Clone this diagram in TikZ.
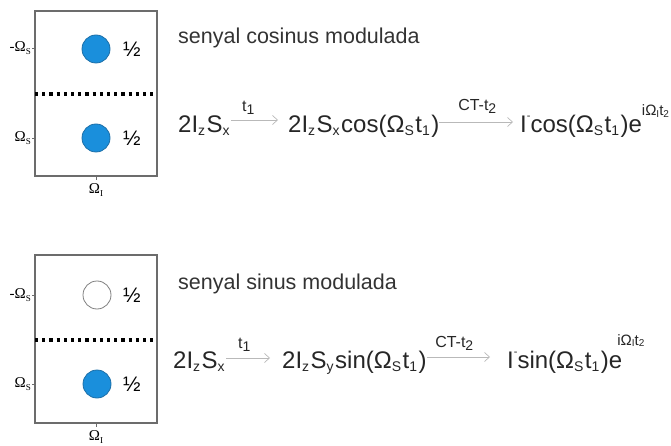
\documentclass[tikz,border=0pt]{standalone}
\usepackage{fontspec}
\setmainfont{Liberation Sans}
\newfontfamily\omfont{Liberation Serif}
\usetikzlibrary{arrows.meta}
\definecolor{dotblue}{HTML}{1A8FDC}
\definecolor{dotedge}{HTML}{1D6FA8}
\newcommand\dn[1]{\raisebox{-3pt}{\fontsize{14}{14}\selectfont #1}\kern1.5pt}
\newcommand\dnn[1]{\raisebox{-1.5pt}{\fontsize{10}{10}\selectfont #1}}
\newcommand\upm{\raisebox{13pt}{\fontsize{11}{11}\selectfont -}}
\newcommand\expo[1]{\raisebox{#1}{\fontsize{15}{15}\selectfont iΩ\dnn{I}t\dnn{2}}}
\newcommand\axs[1]{\raisebox{-2.5pt}{\fontsize{9}{9}\selectfont #1}}
\begin{document}
\begin{tikzpicture}[x=1pt,y=-1pt,
  box/.style={draw=gray!85!black,line width=1.2pt,minimum width=122pt,inner sep=0pt},
  dotline/.style={line width=3.2pt,dash pattern=on 3.2pt off 4pt},
  filled/.style={circle,draw=dotedge,fill=dotblue,line width=0.8pt,minimum size=28pt,inner sep=0pt},
  empty/.style={circle,draw=gray,fill=white,line width=0.8pt,minimum size=28pt,inner sep=0pt},
  half/.style={font=\fontsize{21}{21}\selectfont,inner sep=0pt},
  axl/.style={font=\omfont\fontsize{15}{15}\selectfont,inner sep=0pt,anchor=east},
  axb/.style={font=\omfont\fontsize{15}{15}\selectfont,inner sep=0pt},
  tick/.style={gray!85!black,line width=0.8pt},
  head/.style={font=\fontsize{21.5}{21.5}\selectfont,text=black!80,inner sep=0pt,anchor=base west},
  expr/.style={font=\fontsize{24}{24}\selectfont,text=black!85,inner sep=0pt,anchor=base west},
  lab/.style={font=\fontsize{16}{16}\selectfont,text=black!85,inner sep=0pt},
  arr/.style={draw=gray!55,line width=0.7pt,-{Straight Barb[length=5pt,width=9pt]}}
]
\useasboundingbox (0,0) rectangle (671,446);
% ---------- upper panel ----------
\node[box,minimum height=165pt] (box1) at (96,93.5) {};
\draw[dotline] (35,94) -- (157,94);
\node[filled] (c1) at (96,49) {};
\node[filled] (c2) at (96,138) {};
\node[half] (h1) at (132,49) {½};
\node[half] (h2) at (132,138) {½};
\draw[tick] (32,48) -- (35,48);
\draw[tick] (32,138) -- (35,138);
\draw[tick] (96,176) -- (96,180);
\node[axl] (l1) at (31,48) {-Ω\axs{S}};
\node[axl] (l2) at (31,138) {Ω\axs{S}};
\node[axb] (l3) at (96,190) {Ω\axs{I}};
\node[head] (t1) at (178,44) {senyal cosinus modulada};
\node[expr] (a1) at (178,133) {2I\dn{z}S\dn{x}};
\node[expr] (b1) at (288,133) {2I\dn{z}S\dn{x}cos(Ω\dn{S}t\dn{1})};
\node[expr] (e1) at (520,133) {I\upm cos(Ω\dn{S}t\dn{1})e\expo{17pt}};
\draw[arr] ([yshift=13pt]a1.base east) -- ([xshift=-10pt,yshift=13pt]b1.base west);
\draw[arr] ([yshift=11pt]b1.base east) -- ([xshift=-7pt,yshift=11pt]e1.base west);
\node[lab] (p1) at (249,108) {t\dn{1}};
\node[lab] (q1) at (478,106) {CT-t\dn{2}};
% ---------- lower panel ----------
\node[box,minimum height=168pt] (box2) at (96,339) {};
\draw[dotline] (35,340) -- (157,340);
\node[empty] (c3) at (97,295) {};
\node[filled] (c4) at (97,384) {};
\node[half] (h3) at (132,295) {½};
\node[half] (h4) at (132,384) {½};
\draw[tick] (32,295) -- (35,295);
\draw[tick] (32,384) -- (35,384);
\draw[tick] (96,423) -- (96,427);
\node[axl] (l4) at (31,295) {-Ω\axs{S}};
\node[axl] (l5) at (31,384) {Ω\axs{S}};
\node[axb] (l6) at (96,437) {Ω\axs{I}};
\node[head] (t2) at (178,289) {senyal sinus modulada};
\node[expr] (a2) at (173,368) {2I\dn{z}S\dn{x}};
\node[expr] (b2) at (282,368) {2I\dn{z}S\dn{y}sin(Ω\dn{S}t\dn{1})};
\node[expr] (e2) at (507,368) {I\upm sin(Ω\dn{S}t\dn{1})e\kern-5pt\expo{23pt}};
\draw[arr] ([yshift=10pt]a2.base east) -- ([xshift=-12pt,yshift=10pt]b2.base west);
\draw[arr] ([yshift=11pt]b2.base east) -- ([xshift=-17pt,yshift=11pt]e2.base west);
\node[lab] (p2) at (245,345) {t\dn{1}};
\node[lab] (q2) at (455,343) {CT-t\dn{2}};
\end{tikzpicture}
\end{document}
